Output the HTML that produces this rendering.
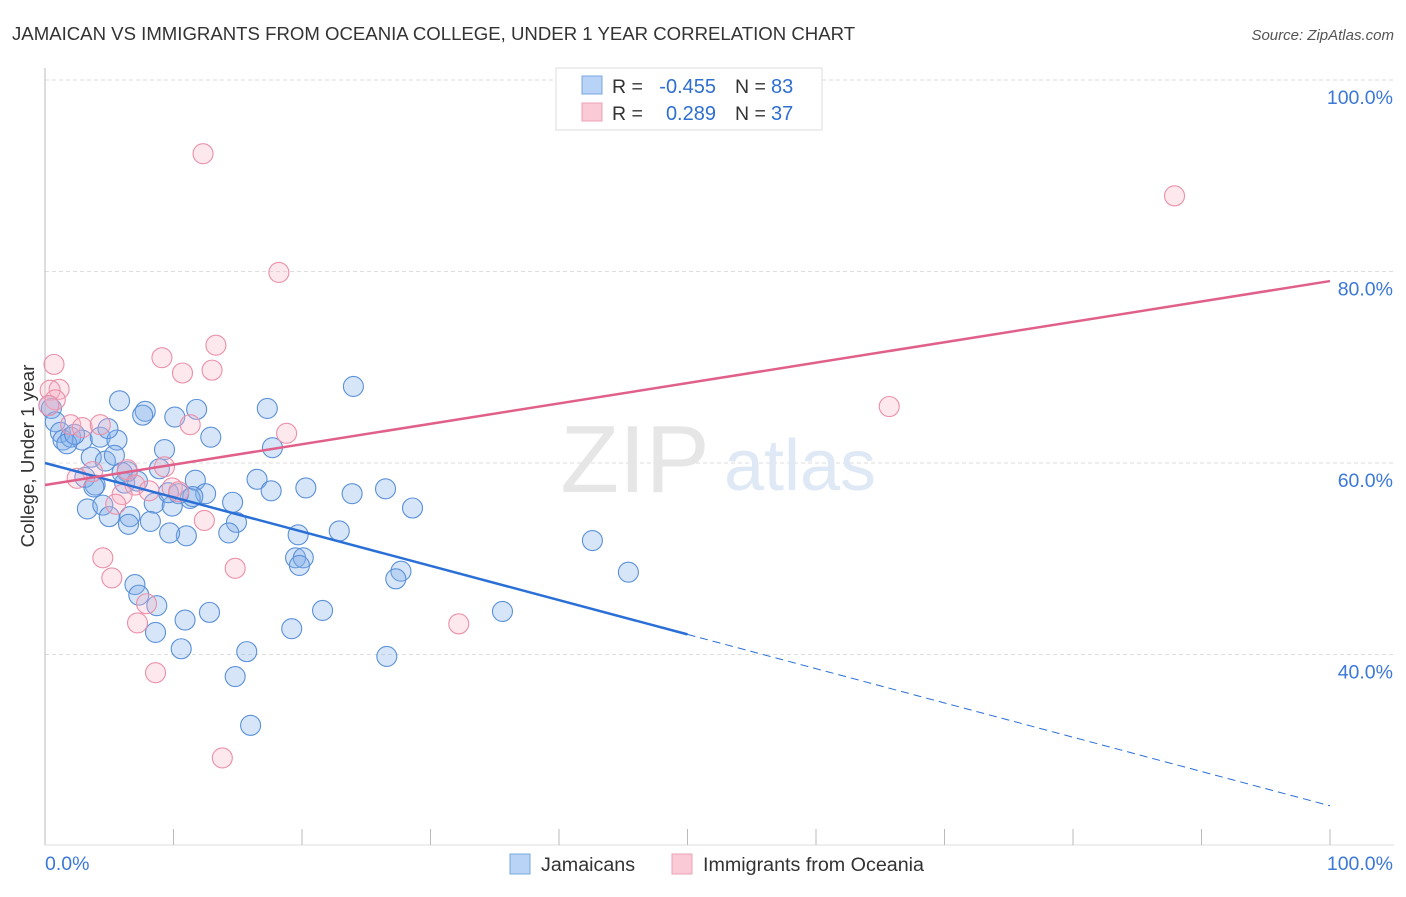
<!DOCTYPE html>
<html><head><meta charset="utf-8"><style>
body{margin:0;background:#fff;font-family:"Liberation Sans",sans-serif;}
svg text{font-family:"Liberation Sans",sans-serif;}
</style></head><body>
<svg width="1406" height="892" xmlns="http://www.w3.org/2000/svg">
<text x="12" y="40" font-size="18.6" fill="#333">JAMAICAN VS IMMIGRANTS FROM OCEANIA COLLEGE, UNDER 1 YEAR CORRELATION CHART</text>
<text x="1394" y="40" font-size="15" fill="#555" font-style="italic" text-anchor="end">Source: ZipAtlas.com</text>
<g id="grid"></g>
<g>
<text x="635" y="492" font-size="96" fill="#e6e6e6" text-anchor="middle" font-family="Liberation Serif">ZIP</text>
<text x="800" y="490" font-size="72" fill="#dfe8f5" text-anchor="middle">atlas</text>
</g>
<g id="axes"></g>
<g id="pts"></g>
<g id="lines"></g>
<text x="34" y="456" font-size="18.8" fill="#333" text-anchor="middle" transform="rotate(-90 34 456)">College, Under 1 year</text>
<g>
<rect x="556" y="68" width="266" height="62" fill="#fff" stroke="#ddd"/>
<rect x="582" y="76" width="20" height="18" fill="#b8d3f5" stroke="#7aa7e0"/>
<rect x="582" y="103" width="20" height="18" fill="#fbcad7" stroke="#eda0b6"/>
<text x="612" y="93" font-size="19.5" fill="#333">R =</text>
<text x="716" y="93" font-size="20" fill="#2f6fd0" text-anchor="end">-0.455</text>
<text x="735" y="93" font-size="19.5" fill="#333">N =</text>
<text x="771" y="93" font-size="20" fill="#2f6fd0">83</text>
<text x="612" y="120" font-size="19.5" fill="#333">R =</text>
<text x="716" y="120" font-size="20" fill="#2f6fd0" text-anchor="end">0.289</text>
<text x="735" y="120" font-size="19.5" fill="#333">N =</text>
<text x="771" y="120" font-size="20" fill="#2f6fd0">37</text>
</g>
<g>
<rect x="510" y="854" width="20" height="20" fill="#b8d3f5" stroke="#7aa7e0"/>
<text x="541" y="871" font-size="19.7" fill="#333">Jamaicans</text>
<rect x="672" y="854" width="20" height="20" fill="#fbcad7" stroke="#eda0b6"/>
<text x="703" y="871" font-size="19.7" fill="#333">Immigrants from Oceania</text>
</g>
</svg>
<script>
const yTicks=[40,60,80,100];
const yTickLabels=["40.0%","60.0%","80.0%","100.0%"];
const xTickLabels=["0.0%","100.0%"];
const blueX=[0.3,0.5,0.8,1.2,1.4,2.0,2.9,4.3,5.6,4.9,3.6,4.7,5.4,5.8,7.8,7.6,10.1,11.8,12.9,9.3,8.9,6.4,3.1,3.9,6.2,7.2,11.7,12.5,11.3,10.4,8.5,9.9,14.6,16.5,17.6,20.3,23.9,26.5,28.6,3.3,4.5,5.0,6.6,8.2,6.5,14.9,14.3,11.0,9.7,19.7,22.9,17.3,17.7,24.0,19.5,20.1,19.8,27.7,27.3,7.0,7.3,8.7,10.9,12.8,8.6,10.6,15.7,14.8,19.2,21.6,26.6,35.6,42.6,45.4,16.0,1.7,2.3,3.8,6.0,9.6,11.5];
const blueY=[66.0,65.7,64.3,63.2,62.4,62.7,62.4,62.7,62.4,63.6,60.6,60.2,60.8,66.5,65.4,65.0,64.8,65.6,62.7,61.4,59.4,59.1,58.5,57.7,57.9,58.1,58.2,56.8,56.3,56.8,55.8,55.5,55.9,58.3,57.1,57.4,56.8,57.3,55.3,55.2,55.6,54.4,54.4,53.9,53.6,53.8,52.7,52.4,52.7,52.5,52.9,65.7,61.6,68.0,50.1,50.1,49.3,48.7,47.9,47.3,46.2,45.1,43.6,44.4,42.3,40.6,40.3,37.7,42.7,44.6,39.8,44.5,51.9,48.6,32.6,62.0,63.0,57.5,59.0,56.9,56.5];
const pinkX=[12.3,87.9,18.2,0.7,9.1,13.3,10.7,13.0,1.1,0.4,0.8,65.7,11.3,18.8,2.0,2.9,4.3,3.7,2.5,6.4,9.3,7.0,6.0,8.1,9.9,10.4,5.5,12.4,4.5,14.8,5.2,7.9,7.2,32.2,8.6,13.8,0.3];
const pinkY=[92.3,87.9,79.9,70.3,71.0,72.3,69.4,69.7,67.7,67.6,66.6,65.9,64.0,63.1,64.0,63.7,64.0,59.1,58.4,59.3,59.6,57.7,56.7,57.1,57.4,57.0,55.7,54.0,50.1,49.0,48.0,45.3,43.3,43.2,38.1,29.2,66.0];
const blueTrend=[60.0,24.2];
const pinkTrend=[57.7,79.0];
const NS="http://www.w3.org/2000/svg";
const sx=v=>45+v*12.85;
const sy=v=>80+(100-v)*9.575;
function mk(tag,attrs,parent){const e=document.createElementNS(NS,tag);for(const k in attrs)e.setAttribute(k,attrs[k]);parent.appendChild(e);return e;}
const grid=document.getElementById('grid'),axes=document.getElementById('axes'),pts=document.getElementById('pts'),lines=document.getElementById('lines');
yTicks.forEach((t,i)=>{
 const l=mk('line',{x1:45,x2:1394,y1:sy(t),y2:sy(t),stroke:'#ddd','stroke-dasharray':'4,3'},grid);
 
 
 const tx=mk('text',{x:1393,y:sy(t)+24,'font-size':19.5,fill:'#3b78d8','text-anchor':'end'},axes);
 tx.textContent=yTickLabels[i];
 
 
});
const la=mk('line',{x1:45,x2:45,y1:68,y2:845,stroke:'#bbb'},axes);


const ba=mk('line',{x1:45,x2:1394,y1:845,y2:845,stroke:'#ddd'},axes);


for(let i=0;i<=10;i++){
 const tk=mk('line',{x1:sx(i*10),x2:sx(i*10),y1:829,y2:845,stroke:'#bbb'},axes);
 
 
}
[[0,'start',45],[100,'end',1393]].forEach((d,i)=>{
 const tx=mk('text',{x:d[2],y:870,'font-size':19.5,fill:'#3b78d8','text-anchor':d[1]},axes);
 tx.textContent=xTickLabels[i];
 
 
});
blueX.forEach((x,i)=>{
 const c=mk('circle',{cx:sx(x),cy:sy(blueY[i]),r:10,fill:'rgba(130,175,235,0.33)',stroke:'#5a90d8','stroke-width':1.1},pts);
 
 
});
pinkX.forEach((x,i)=>{
 const c=mk('circle',{cx:sx(x),cy:sy(pinkY[i]),r:10,fill:'rgba(248,180,200,0.3)',stroke:'#eb8fa8','stroke-width':1.1},pts);
 
 
});
const bAt=x=>blueTrend[0]+(blueTrend[1]-blueTrend[0])*x/100;
const b1=mk('line',{x1:sx(0),y1:sy(bAt(0)),x2:sx(50),y2:sy(bAt(50)),stroke:'#2a6fd6','stroke-width':2.5},lines);


const b2=mk('line',{x1:sx(50),y1:sy(bAt(50)),x2:sx(100),y2:sy(bAt(100)),stroke:'#2a6fd6','stroke-width':1,'stroke-dasharray':'8,5'},lines);


const p1=mk('line',{x1:sx(0),y1:sy(pinkTrend[0]),x2:sx(100),y2:sy(pinkTrend[1]),stroke:'#e0608a','stroke-width':2.5},lines);


</script>
</body></html>
